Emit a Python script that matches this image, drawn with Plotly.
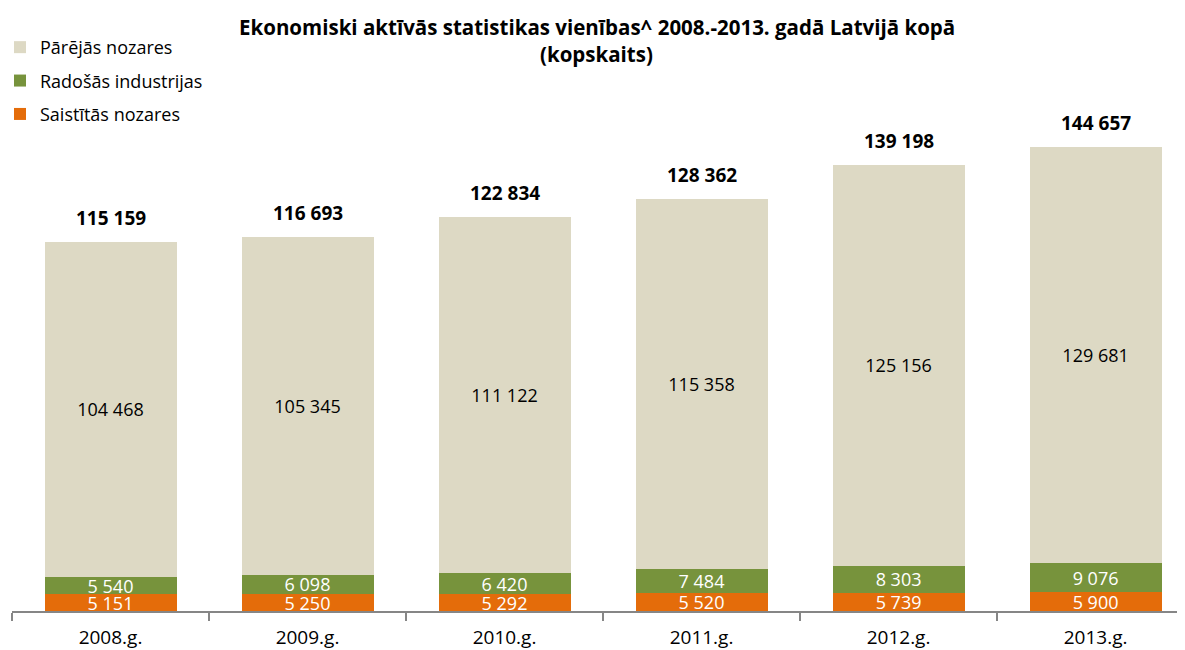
import plotly.graph_objects as go

years = ["2008.g.", "2009.g.", "2010.g.", "2011.g.", "2012.g.", "2013.g."]
saistitas = [5151, 5250, 5292, 5520, 5739, 5900]
radosas = [5540, 6098, 6420, 7484, 8303, 9076]
parejas = [104468, 105345, 111122, 115358, 125156, 129681]
totals = [115159, 116693, 122834, 128362, 139198, 144657]

FONT = "Open Sans"
fig = go.Figure()
series = [
    ("Saistītās nozares", saistitas, "#E46C0A", "white", 18, 3),
    ("Radošās industrijas", radosas, "#77933C", "white", 18, 2),
    ("Pārējās nozares", parejas, "#DDD9C4", "black", 18, 1),
]
for name, vals, col, tcol, fs, rank in series:
    fig.add_trace(go.Bar(
        x=years, y=vals, name=name, legendgroup=name, legendrank=rank,
        marker=dict(color=col, line=dict(width=0)),
        texttemplate="%{y:,}", textposition="inside", textangle=0,
        insidetextanchor="middle", constraintext="none",
        insidetextfont=dict(family=FONT, size=fs, color=tcol),
        cliponaxis=False,
    ))

for x, t in zip(years, totals):
    fig.add_annotation(x=x, y=t, text="<b>" + f"{t:,}".replace(",", " ") + "</b>",
                       showarrow=False, yanchor="bottom", yshift=9,
                       font=dict(family=FONT, size=19, color="black"))

title_lines = ["Ekonomiski aktīvās statistikas vienības^ 2008.-2013. gadā Latvijā kopā", "(kopskaits)"]
for line, yp in zip(title_lines, [1.1385, 1.0858]):
    fig.add_annotation(x=0.4983, xref="paper", y=yp, yref="paper", text="<b>" + line + "</b>",
                       showarrow=False, xanchor="center", yanchor="middle",
                       font=dict(family=FONT, size=20.5, color="black"))

fig.update_layout(
    barmode="stack", bargap=0.33, separators=", ",
    width=1177, height=642, plot_bgcolor="white", paper_bgcolor="white",
    margin=dict(l=4, r=0, t=90, b=39),
    font=dict(family=FONT, size=16, color="black"),
    legend=dict(x=0, y=1.1346, xref="paper", yref="paper", xanchor="left", yanchor="top",
                traceorder="grouped", font=dict(family=FONT, size=18),
                itemwidth=30, tracegroupgap=7, indentation=-12, bgcolor="rgba(0,0,0,0)"),
    showlegend=True,
)
fig.update_xaxes(showline=True, linecolor="#868686", linewidth=1.5, ticks="outside",
                 tickson="boundaries", ticklen=8, tickcolor="#868686", tickwidth=1.5,
                 tickfont=dict(family=FONT, size=19), ticklabelstandoff=8, showgrid=False,
                 range=[-0.5, 5.454])
fig.update_yaxes(visible=False, range=[0, 160000], showgrid=False)
fig.write_html("out.html")
